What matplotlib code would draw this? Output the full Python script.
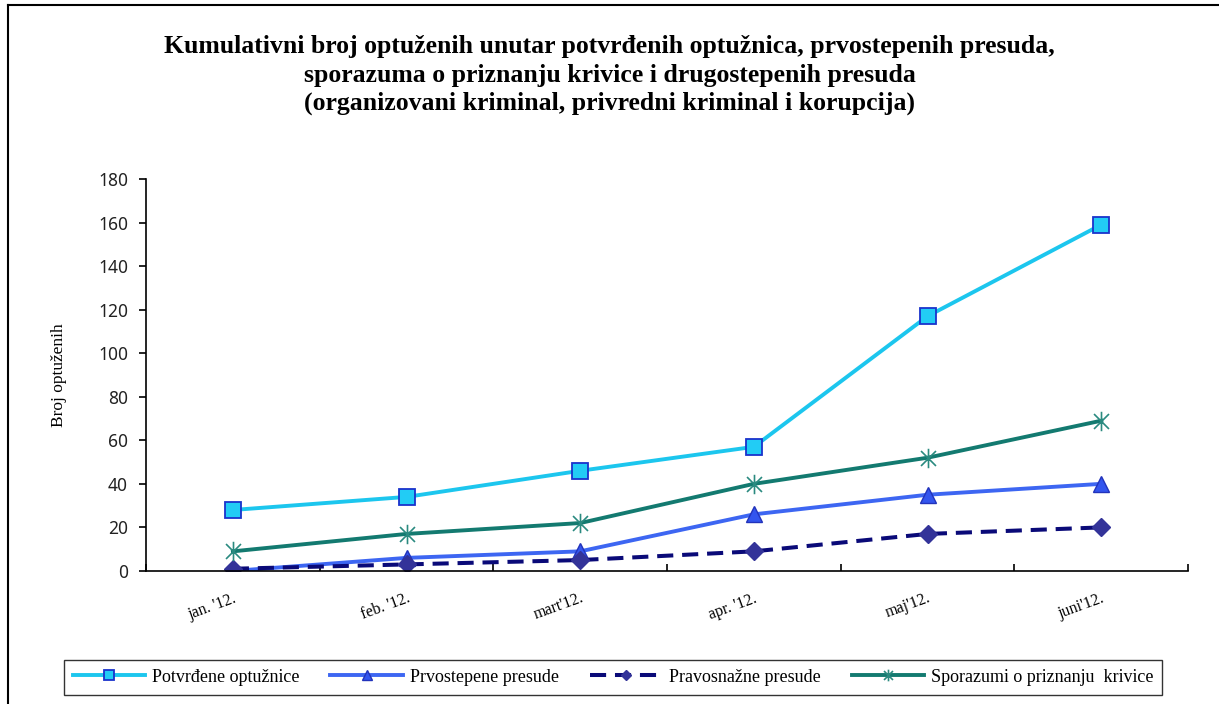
import matplotlib.pyplot as plt
from matplotlib.path import Path
from matplotlib.lines import Line2D

# podaci
meseci = ["jan. '12.", "feb. '12.", "mart'12.", "apr. '12.", "maj'12.", "juni'12."]
potvrdjene = [28, 34, 46, 57, 117, 159]
prvostepene = [0, 6, 9, 26, 35, 40]
pravosnazne = [1, 3, 5, 9, 17, 20]
sporazumi = [9, 17, 22, 40, 52, 69]

serif = ["Liberation Serif", "DejaVu Serif"]

# zvezdica kao u Excelu (x + vertikalna linija)
zvezda = Path([(-1, -1), (1, 1), (-1, 1), (1, -1), (0, -1.3), (0, 1.3)],
              [Path.MOVETO, Path.LINETO, Path.MOVETO, Path.LINETO, Path.MOVETO, Path.LINETO])

fig = plt.figure(figsize=(12.19, 7.04), dpi=100)
ax = fig.add_axes([0.1198, 0.189, 0.8548, 0.5567])

x = list(range(len(meseci)))
ax.plot(x, potvrdjene, color="#1CC6EE", lw=2.8, marker="s", ms=12,
        mfc="#22CCF5", mec="#1A33CC", mew=1.3, label="Potvrđene optužnice")
ax.plot(x, prvostepene, color="#3D66F2", lw=2.8, marker="^", ms=12,
        mfc="#3355EE", mec="#2233BB", mew=1.0, label="Prvostepene presude")
ax.plot(x, pravosnazne, color="#0A0A78", lw=2.9, ls=(0, (4, 2.2)), marker="D", ms=9,
        mfc="#333399", mec="#333399", label="Pravosnažne presude")
ax.plot(x, sporazumi, color="#137A70", lw=2.8, marker=zvezda, ms=14,
        mfc="none", mec="#2A8A80", mew=1.2, label="Sporazumi o priznanju  krivice")

ax.set_xlim(-0.5, 5.5)
ax.set_ylim(0, 180)
ax.set_yticks(range(0, 181, 20))
ax.set_xticks([i - 0.5 for i in range(7)], minor=False)
ax.set_xticklabels([])
ax.set_xticks(x, minor=True)
ax.set_xticklabels(meseci, minor=True, rotation=20, ha="right", rotation_mode="anchor",
                   family=serif, fontsize=11.5)
ax.tick_params(axis="x", which="minor", length=0, pad=14)
ax.tick_params(axis="x", which="major", length=5, direction="in", width=1.2)
ax.tick_params(axis="y", length=5, direction="out", width=1.2, labelsize=12.5, pad=8)
for lab in ax.get_yticklabels():
    lab.set_family(["Noto Sans", "DejaVu Sans"])
    lab.set_color("#222222")
for s in ["top", "right"]:
    ax.spines[s].set_visible(False)
for s in ["left", "bottom"]:
    ax.spines[s].set_linewidth(1.2)
ax.set_ylabel("Broj optuženih", family=serif, fontsize=12.5, labelpad=22)

fig.text(0.5, 0.95, "Kumulativni broj optuženih unutar potvrđenih optužnica, prvostepenih presuda,\n"
         "sporazuma o priznanju krivice i drugostepenih presuda\n"
         "(organizovani kriminal, privredni kriminal i korupcija)",
         ha="center", va="top", family=serif, fontsize=18.5, fontweight="bold", linespacing=1.3)

leg = fig.legend(loc="center", bbox_to_anchor=(0.503, 0.038), ncol=4, frameon=True,
                 prop={"family": serif, "size": 13}, fancybox=False, edgecolor="black",
                 handlelength=4.0, columnspacing=1.7, handletextpad=0.4,
                 borderpad=0.5, markerscale=0.6)
leg.get_frame().set_linewidth(1.0)

# okvir slike
fig.add_artist(Line2D([8 / 1219, 8 / 1219], [0, 1 - 5 / 704], color="black", lw=1.5))
fig.add_artist(Line2D([8 / 1219, 1], [1 - 5 / 704, 1 - 5 / 704], color="black", lw=1.5))

fig.savefig("out.png", dpi=100)
